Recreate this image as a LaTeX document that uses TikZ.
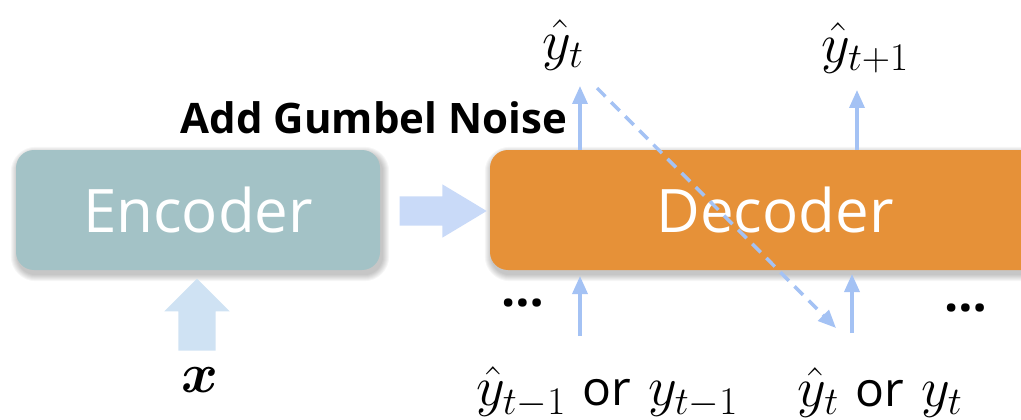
\RequirePackage{fix-cm}
\documentclass[tikz,border=0pt]{standalone}
\usepackage{fontspec}
\usepackage{amsmath,bm}
\newfontfamily\osans{Open Sans}
\usetikzlibrary{shapes.arrows,arrows.meta,backgrounds}
\definecolor{enc}{HTML}{A3C2C6}
\definecolor{dec}{HTML}{E69138}
\definecolor{blk}{HTML}{C9DAF8}
\definecolor{blkup}{HTML}{CFE2F3}
\definecolor{thin}{HTML}{A4C2F4}
\tikzset{
  box/.style={rounded corners=18pt, text=white, font=\osans\fontsize{60}{70}\selectfont},
  bigarrow/.style={single arrow, draw=none, outer sep=0pt, inner xsep=0pt},
  thinarrow/.style={draw=thin, line width=3.5pt, -{Triangle[length=18pt,width=15pt]}},
  dasharrow/.style={draw=thin, line width=3.5pt, dash pattern=on 12pt off 8pt, -{Triangle[length=18pt,width=15pt]}},
  lab/.style={font=\fontsize{56}{60}\selectfont, inner sep=0pt},
  dots/.style={font=\osans\bfseries\fontsize{50}{52}\selectfont, inner sep=0pt},
  softshadow/.style={black, opacity=0.035},
}
\newcommand{\orw}{{\osans\fontsize{48}{50}\selectfont or}}
\begin{document}
\begin{tikzpicture}[x=1pt,y=-1pt]
\useasboundingbox (0,0) rectangle (1021,420);
\clip (0,0) rectangle (1021,420);
\node[box, fill=enc, minimum width=364pt, minimum height=120pt] (enc) at (198,210) {Encoder};
\node[box, fill=dec, minimum width=570pt, minimum height=120pt] (dec) at (775,210) {Decoder};
\begin{pgfonlayer}{background}
\foreach \n in {enc,dec}{
  \foreach \i in {1,...,7}{
    \fill[softshadow, rounded corners={18pt+\i pt}]
      ([shift={({2-\i},{4-\i})}]\n.north west) rectangle ([shift={({2+\i},{4+\i})}]\n.south east);
  }
}
\end{pgfonlayer}
\node[bigarrow, fill=blk, inner ysep=14.5pt, minimum height=87pt, single arrow head extend=12pt, single arrow tip angle=62] (harr) at (431,211) {};
\node[bigarrow, fill=blkup, rotate=90, inner ysep=18.5pt, minimum height=72pt, single arrow head extend=14pt, single arrow tip angle=90] (varr) at (197,324) {};
\node[lab] (x) at (200,380) {$\bm{x}$};
\node[font=\osans\bfseries\fontsize{42}{46}\selectfont, inner sep=0pt] (gn) at (374,118) {Add Gumbel Noise};
\node[lab] (yt) at (563,45) {$\hat{y}_t$};
\node[lab] (yt1) at (865,48) {$\hat{y}_{t+1}$};
\node[lab] (in1) at (607,392) {$\hat{y}_{t-1}$ \orw\ $y_{t-1}$};
\node[lab] (in2) at (880,392) {$\hat{y}_t$ \orw\ $y_t$};
\node[dots] (d1) at (523,303) {…};
\node[dots] (d2) at (966,308) {…};
\coordinate (o1s) at (580,150); \coordinate (o1e) at (580,86);
\coordinate (o2s) at (857,150); \coordinate (o2e) at (857,90);
\coordinate (i1s) at (580,336); \coordinate (i1e) at (580,276);
\coordinate (i2s) at (852,333); \coordinate (i2e) at (852,274);
\coordinate (ds) at (597,88); \coordinate (de) at (836,328);
\draw[thinarrow] (o1s) -- (o1e);
\draw[thinarrow] (o2s) -- (o2e);
\draw[thinarrow] (i1s) -- (i1e);
\draw[thinarrow] (i2s) -- (i2e);
\draw[dasharrow] (ds) -- (de);
\end{tikzpicture}
\end{document}
